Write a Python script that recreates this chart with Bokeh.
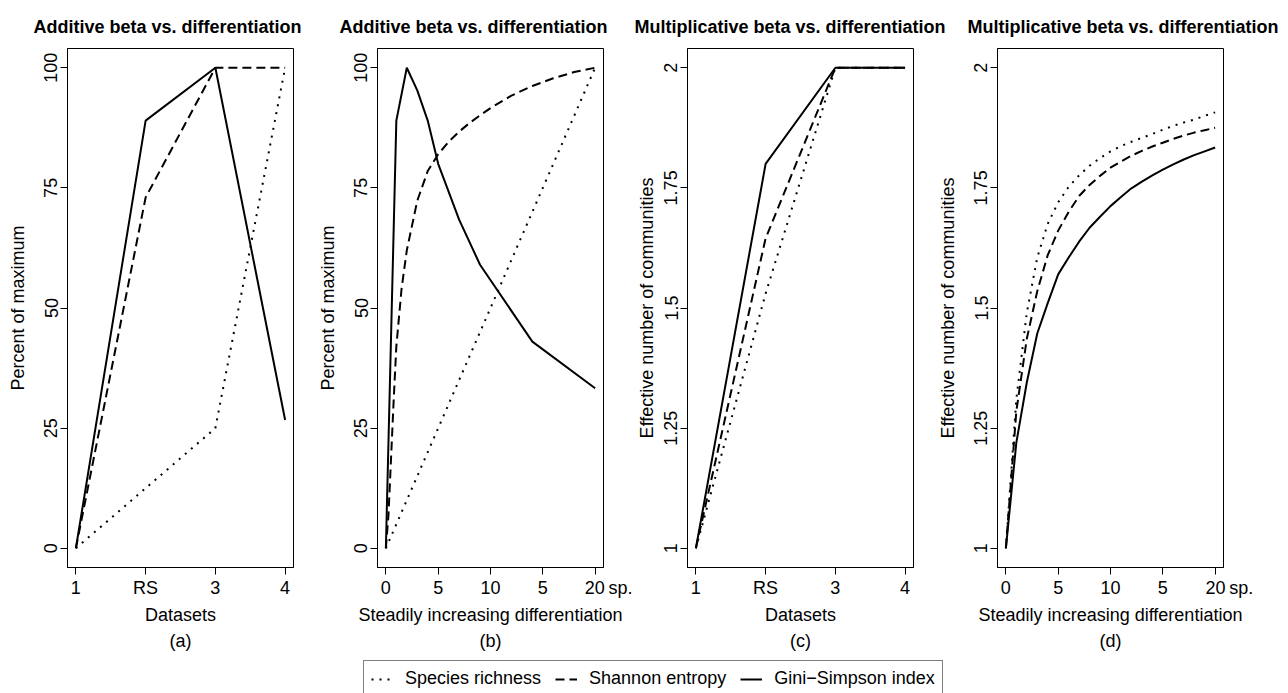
from bokeh.plotting import figure
from bokeh.models import Range1d, FixedTicker, Label, Legend, LegendItem, Title
from bokeh.layouts import column, row
from bokeh.embed import file_html
from bokeh.resources import INLINE

FONT = "Liberation Sans"

# ---------------- data ----------------
titles = ["Additive beta vs. differentiation",
          "Additive beta vs. differentiation",
          "Multiplicative beta vs. differentiation",
          "Multiplicative beta vs. differentiation"]
captions = ["(a)", "(b)", "(c)", "(d)"]
series_names = ["Species richness", "Shannon entropy", "Gini\u2212Simpson index"]

dataset_x = [1, 2, 3, 4]
dataset_labels = ["1", "RS", "3", "4"]
steady_ticks = [0, 5, 10, 15, 20]
steady_labels = ["0", "5", "10", "5", "20"]
steady_unit = "sp."
pct_ticks = [0, 25, 50, 75, 100]
pct_labels = ["0", "25", "50", "75", "100"]
eff_ticks = [1, 1.25, 1.5, 1.75, 2]
eff_labels = ["1", "1.25", "1.5", "1.75", "2"]

# (a) additive beta, datasets
add_richness_ds = [0, 12.5, 25, 100]
add_shannon_ds = [0, 73, 100, 100]
add_simpson_ds = [0, 89, 100, 26.7]

# (b) additive beta, steadily increasing differentiation
add_richness_x = [0, 5, 10, 15, 20]
add_richness_st = [0, 25, 50, 75, 100]
add_shannon_x = [0, 0.25, 0.5, 0.75, 1, 1.5, 2, 3, 4, 5, 6, 7, 8, 9, 10, 12, 14, 16, 18, 20]
add_shannon_st = [0, 7, 19, 31, 42, 54, 62, 72.3, 78.5, 82, 84.6, 86.7, 88.5, 90.1, 91.6,
                  94.2, 96.2, 97.8, 99.1, 100]
add_simpson_x = [0, 1, 2, 3, 4, 5, 7, 9, 14, 20]
add_simpson_st = [0, 89, 100, 95.3, 89, 80, 68.4, 59, 43, 33.3]

# (c) multiplicative beta, datasets
mult_richness_ds = [1, 1.53, 2, 2]
mult_shannon_ds = [1, 1.645, 2, 2]
mult_simpson_ds = [1, 1.80, 2, 2]

# (d) multiplicative beta, steadily increasing differentiation
steady_x = [0, 1, 2, 3, 4, 5, 6, 7, 8, 9, 10, 11, 12, 13, 14, 15, 16, 17, 18, 19, 20]
mult_richness_st = [1.0, 1.31, 1.49, 1.605, 1.675, 1.72, 1.752, 1.776, 1.796, 1.812, 1.826,
                    1.837, 1.846, 1.854, 1.862, 1.871, 1.879, 1.886, 1.892, 1.900, 1.907]
mult_shannon_st = [1.0, 1.285, 1.436, 1.535, 1.61, 1.661, 1.700, 1.733, 1.756, 1.775, 1.792,
                   1.805, 1.817, 1.827, 1.836, 1.844, 1.852, 1.859, 1.865, 1.870, 1.875]
mult_simpson_st = [1.0, 1.22, 1.345, 1.447, 1.51, 1.57, 1.605, 1.638, 1.667, 1.69, 1.712,
                   1.731, 1.749, 1.763, 1.776, 1.788, 1.799, 1.809, 1.818, 1.826, 1.834]

# ---------------- styles ----------------
STYLE = [
    dict(line_color="black", line_width=2, line_dash="2 6"),    # richness (dotted)
    dict(line_color="black", line_width=2, line_dash="9 5"),    # Shannon (dashed)
    dict(line_color="black", line_width=2),                      # Gini-Simpson (solid)
]

PANEL_H = 620
TOP = 8
BOTTOM = 93
NBSP = "\u00a0"
THIN = "\u2009"


def below_title(p, txt, offset, standoff):
    p.add_layout(Title(text=txt, align="center", offset=offset, standoff=standoff,
                       text_font=FONT, text_font_size="18px", text_font_style="normal",
                       text_color="black"), "below")


def make_panel(width, left, right, xr, yr, xticks, xlabels, yticks, ylabels,
               ylabel, ylab_standoff, xlabel, xlabel_off, caption, caption_off, series):
    p = figure(width=width, height=PANEL_H, x_range=Range1d(*xr), y_range=Range1d(*yr),
               min_border_left=left, min_border_right=right,
               min_border_top=TOP, min_border_bottom=BOTTOM,
               toolbar_location=None, output_backend="svg",
               background_fill_color="white", border_fill_color="white")
    p.grid.visible = False
    p.outline_line_color = "black"
    p.outline_line_width = 1
    p.xaxis.ticker = FixedTicker(ticks=xticks)
    p.xaxis.major_label_overrides = {k: v for k, v in zip(xticks, xlabels)}
    p.yaxis.ticker = FixedTicker(ticks=yticks)
    p.yaxis.major_label_overrides = {k: v for k, v in zip(yticks, ylabels)}
    for ax in (p.xaxis[0], p.yaxis[0]):
        ax.major_tick_out = 7
        ax.major_tick_in = 0
        ax.minor_tick_out = 0
        ax.minor_tick_in = 0
        ax.axis_line_color = "black"
        ax.major_tick_line_color = "black"
        ax.major_label_text_font = FONT
        ax.major_label_text_font_size = "18px"
        ax.major_label_text_color = "black"
        ax.major_label_standoff = 3
    p.yaxis.major_label_orientation = "parallel"
    p.yaxis.axis_label = ylabel
    p.yaxis.axis_label_text_font = FONT
    p.yaxis.axis_label_text_font_size = "18px"
    p.yaxis.axis_label_text_font_style = "normal"
    p.yaxis.axis_label_text_color = "black"
    p.yaxis.axis_label_standoff = ylab_standoff

    for (xs, ys), st in zip(series, STYLE):
        p.line(xs, ys, **st)

    below_title(p, xlabel, xlabel_off, 4)
    below_title(p, caption, caption_off, 4)
    return p


ds_range = (0.88, 4.12)
st_range = (-0.8, 20.8)
pct_range = (-4, 104)
eff_range = (0.96, 2.04)

# last tick label of the differentiation axes carries the "sp." unit
steady_labels_unit = steady_labels[:-1] + [NBSP * 5 + THIN + steady_labels[-1] + THIN + steady_unit]

pa = make_panel(312, 67, 19, ds_range, pct_range, dataset_x, dataset_labels,
                pct_ticks, pct_labels, "Percent of maximum", 14,
                "Datasets", 2, captions[0], 6,
                [(dataset_x, add_richness_ds), (dataset_x, add_shannon_ds), (dataset_x, add_simpson_ds)])
pb = make_panel(320, 65, 29, st_range, pct_range, steady_ticks, steady_labels_unit,
                pct_ticks, pct_labels, "Percent of maximum", 14,
                "Steadily increasing differentiation", 8, captions[1], 8,
                [(add_richness_x, add_richness_st), (add_shannon_x, add_shannon_st),
                 (add_simpson_x, add_simpson_st)])
pc = make_panel(298, 55, 17, ds_range, eff_range, dataset_x, dataset_labels,
                eff_ticks, eff_labels, "Effective number of communities", 5,
                "Datasets", -1, captions[2], 5,
                [(dataset_x, mult_richness_ds), (dataset_x, mult_shannon_ds), (dataset_x, mult_simpson_ds)])
pd_ = make_panel(358, 67, 65, st_range, eff_range, steady_ticks, steady_labels_unit,
                 eff_ticks, eff_labels, "Effective number of communities", 14,
                 "Steadily increasing differentiation", 12, captions[3], 5,
                 [(steady_x, mult_richness_st), (steady_x, mult_shannon_st), (steady_x, mult_simpson_st)])

# ---------------- title row ----------------
tf = figure(width=1288, height=40, x_range=Range1d(0, 1288), y_range=Range1d(0, 40),
            min_border=0, toolbar_location=None, output_backend="svg")
tf.axis.visible = False
tf.grid.visible = False
tf.outline_line_color = None
title_cx = [167, 473, 789.5, 1122.5]
for t, cx in zip(titles, title_cx):
    tf.add_layout(Label(x=cx, y=14, x_units="screen", y_units="screen", text=t,
                        text_align="center", text_baseline="alphabetic",
                        text_font=FONT, text_font_size="18px", text_font_style="bold",
                        text_color="black"))

# ---------------- legend row ----------------
lf = figure(width=1288, height=33, x_range=Range1d(100, 101), y_range=Range1d(100, 101),
            min_border=0, toolbar_location=None, output_backend="svg")
lf.axis.visible = False
lf.grid.visible = False
lf.outline_line_color = None
legend_src = [(dataset_x, add_richness_ds), (dataset_x, add_shannon_ds), (dataset_x, add_simpson_ds)]
rends = [lf.line(xs, ys, **st) for (xs, ys), st in zip(legend_src, STYLE)]
legend = Legend(items=[LegendItem(label=n, renderers=[r]) for n, r in zip(series_names, rends)],
                orientation="horizontal", location=(363, -4),
                border_line_color="black", border_line_width=1,
                background_fill_color="white", background_fill_alpha=1,
                label_text_font=FONT, label_text_font_size="18px", label_text_color="black",
                glyph_width=22, glyph_height=18, label_standoff=12, spacing=14, padding=7,
                margin=0)
lf.add_layout(legend)

layout = column(tf, row(pa, pb, pc, pd_), lf)
open("out.html", "w").write(file_html(layout, INLINE))
